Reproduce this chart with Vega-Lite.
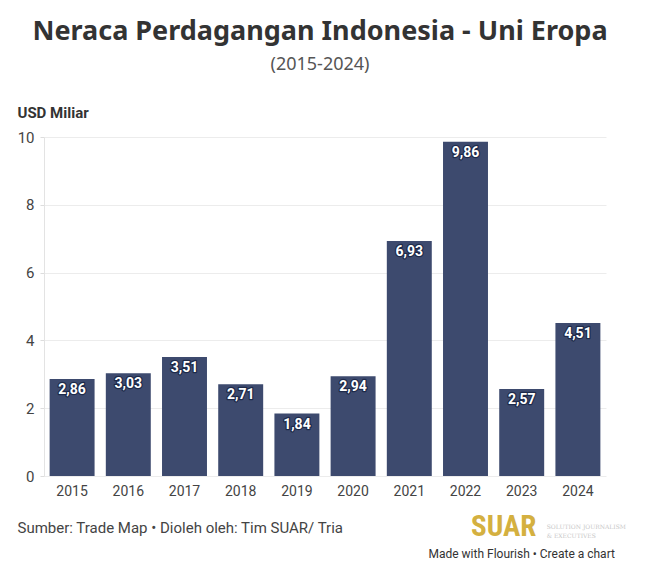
{
  "$schema": "https://vega.github.io/schema/vega-lite/v6.json",
  "width": 562,
  "height": 339,
  "autosize": {"type": "none"},
  "padding": {"left": 44, "top": 137, "right": 58, "bottom": 98},
  "background": "white",
  "title": {
    "text": "Neraca Perdagangan Indonesia - Uni Eropa",
    "subtitle": "(2015-2024)",
    "anchor": "middle",
    "frame": "group",
    "dx": -5,
    "offset": 30,
    "font": "Noto Sans",
    "fontSize": 27,
    "fontWeight": "bold",
    "color": "#333333",
    "subtitleFont": "Noto Sans",
    "subtitleFontSize": 18,
    "subtitleColor": "#555555",
    "subtitlePadding": 10
  },
  "data": {
    "values": [
      {"year": "2015", "value": 2.86},
      {"year": "2016", "value": 3.03},
      {"year": "2017", "value": 3.51},
      {"year": "2018", "value": 2.71},
      {"year": "2019", "value": 1.84},
      {"year": "2020", "value": 2.94},
      {"year": "2021", "value": 6.93},
      {"year": "2022", "value": 9.86},
      {"year": "2023", "value": 2.57},
      {"year": "2024", "value": 4.51}
    ]
  },
  "encoding": {
    "x": {
      "field": "year",
      "type": "nominal",
      "sort": null,
      "scale": {"paddingInner": 0.2, "paddingOuter": 0.1},
      "axis": {
        "title": "Sumber: Trade Map • Dioleh oleh: Tim SUAR/ Tria",
        "titleX": -27,
        "titleY": 51,
        "titleAlign": "left",
        "titleBaseline": "middle",
        "titleFont": "Roboto",
        "titleFontSize": 15,
        "titleFontWeight": "normal",
        "titleColor": "#444444",
        "labelAngle": 0,
        "labelFont": "Roboto",
        "labelFontSize": 14,
        "labelColor": "#444444",
        "labelPadding": 8,
        "ticks": false,
        "domain": false
      }
    },
    "y": {
      "field": "value",
      "type": "quantitative",
      "scale": {"domain": [0, 10], "nice": false},
      "axis": {
        "title": "USD Miliar",
        "titleAngle": 0,
        "titleX": -27,
        "titleY": -25,
        "titleAlign": "left",
        "titleBaseline": "middle",
        "titleFont": "Roboto",
        "titleFontSize": 15,
        "titleFontWeight": "bold",
        "titleColor": "#333333",
        "values": [0, 2, 4, 6, 8, 10],
        "labelFont": "Roboto",
        "labelFontSize": 15,
        "labelColor": "#444444",
        "labelPadding": 6,
        "tickSize": 4,
        "tickColor": "#dddddd",
        "domainColor": "#e3e3e3",
        "gridColor": "#ececec"
      }
    }
  },
  "layer": [
    {
      "mark": {"type": "bar", "color": "#3d4a6e"}
    },
    {
      "mark": {
        "type": "text",
        "baseline": "top",
        "dy": 4,
        "font": "Roboto",
        "fontSize": 14,
        "fontWeight": "bold",
        "color": "#1e2a4a",
        "stroke": "#1e2a4a",
        "strokeWidth": 2.5,
        "strokeJoin": "round"
      },
      "encoding": {"text": {"field": "value", "type": "quantitative", "format": ".2f"}}
    },
    {
      "mark": {
        "type": "text",
        "baseline": "top",
        "dy": 4,
        "font": "Roboto",
        "fontSize": 14,
        "fontWeight": "bold",
        "color": "white"
      },
      "encoding": {"text": {"field": "value", "type": "quantitative", "format": ".2f"}}
    },
    {
      "transform": [{"filter": "datum.year == '2023'"}],
      "mark": {
        "type": "text",
        "align": "center",
        "baseline": "middle",
        "dx": -18,
        "font": "Roboto Condensed",
        "fontSize": 29,
        "fontWeight": "bold",
        "color": "#d4b040"
      },
      "encoding": {
        "y": {"datum": -1.5},
        "text": {"value": "SUAR"}
      }
    },
    {
      "transform": [{"filter": "datum.year == '2023'"}],
      "mark": {
        "type": "text",
        "align": "left",
        "baseline": "middle",
        "dx": 25,
        "font": "DejaVu Serif",
        "fontSize": 6,
        "fontWeight": "normal",
        "lineHeight": 9,
        "color": "#c8c8c8"
      },
      "encoding": {
        "y": {"datum": -1.5},
        "text": {"value": ["SOLUTION JOURNALISM", "& EXECUTIVES"]}
      }
    },
    {
      "transform": [{"filter": "datum.year == '2023'"}],
      "mark": {
        "type": "text",
        "align": "center",
        "baseline": "middle",
        "font": "Roboto",
        "fontSize": 12,
        "fontWeight": "normal",
        "color": "#333333"
      },
      "encoding": {
        "y": {"datum": -2.3},
        "text": {"value": "Made with Flourish • Create a chart"}
      }
    }
  ],
  "config": {
    "view": {"stroke": null},
    "locale": {
      "number": {"decimal": ",", "thousands": ".", "grouping": [3], "currency": ["", ""]}
    }
  }
}
